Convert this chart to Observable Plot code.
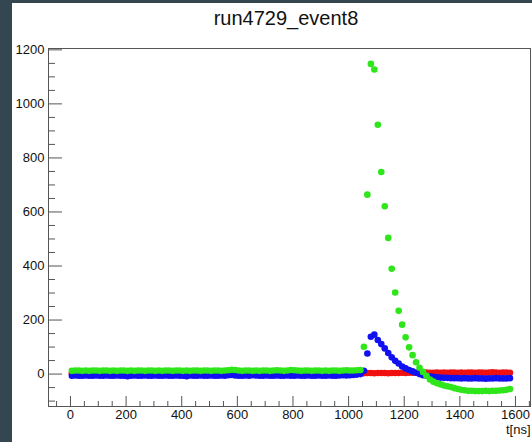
<!DOCTYPE html>
<html><head><meta charset="utf-8">
<script src="https://cdn.jsdelivr.net/npm/d3@7"></script>
<script src="https://cdn.jsdelivr.net/npm/@observablehq/plot@0.6"></script>
<style>
html,body{margin:0;padding:0;background:#34464f;width:532px;height:442px;overflow:hidden;}
#panel{position:absolute;left:12px;top:3px;width:520px;height:439px;background:#fff;}
#title{position:absolute;left:274px;top:4px;transform:translateX(-50%);font:20px "Liberation Sans",Arial,sans-serif;color:#111;white-space:nowrap;}
#chart{position:absolute;left:0;top:27px;}
</style></head><body>
<div id="panel"><div id="title">run4729_event8</div><div id="chart"></div></div>
<script>
// sampling grid (ns)
const T0 = 5, DT = 12.5;

const red = [
 3,2,3,3,2,3,3,2,3,3, 2,3,3,2,3,3,2,3,3,2,
 3,3,2,3,3,2,3,3,2,3, 3,2,3,3,2,3,3,2,3,3,
 2,3,3,2,3,3,2,3,3,2, 3,3,2,3,3,2,3,3,2,3,
 3,2,3,3,2,3,3,2,3,3, 2,3,3,2,3,3,2,3,3,2,
 3,3,2,3,3,
 4,4,3,4,4,4,3,4,4,4, 5,4,5,5,5,5,5,6,5,5,
 6,5,6,5,6,6,5,6,5,6, 6,5,6,6,5,6,7,6,5,6,
 6,5
];
const blue = [
 -6,-5,-6,-6,-5,-6,-6,-5,-6,-6, -5,-6,-6,-5,-6,-6,-8,-6,-5,-6,
 -6,-5,-6,-6,-5,-6,-6,-5,-6,-6, -5,-6,-6,-8,-5,-6,-6,-5,-6,-6,
 -5,-6,-6,-5,-6,-4,-3,-5,-6,-6, -5,-6,-4,-5,-6,-6,-5,-6,-6,-5,
 -6,-6,-5,-6,-6,-5,-6,-6,-5,-6, -6,-5,-6,-6,-5,-6,-6,-5,-4,-5,
 -4,-3,-2,0,12,
 76,138,146,126,111,95,78,62,49,39, 28,21,15,10,5,0,-4,-6,-8,-10,
 -12,-13,-14,-14,-15,-15,-15,-16,-15,-16, -16,-15,-16,-16,-17,-16,-16,-15,-16,-16,
 -16,-15
];
const green = [
 12,13,13,12,13,12,13,13,12,13, 13,12,13,12,13,13,12,13,12,13,
 13,12,13,13,12,13,12,13,13,12, 13,13,12,13,12,13,13,12,13,13,
 12,13,13,12,13,14,16,15,13,12, 13,13,12,13,12,13,13,12,13,14,
 13,12,13,15,14,13,12,13,13,12, 13,13,12,13,12,13,13,12,13,14,
 13,13,14,15,101,
 664,1148,1127,923,748,621,504,390,302,234, 183,136,99,70,44,23,8,-6,-20,-28,
 -34,-38,-42,-45,-48,-52,-55,-58,-60,-62, -62,-63,-63,-63,-62,-63,-62,-62,-61,-60,
 -58,-55
];

const yMajor = [0,200,400,600,800,1000,1200];
const yMinor = [-100,-50,50,100,150,250,300,350,450,500,550,650,700,750,850,900,950,1050,1100,1150];
const xMajor = [0,200,400,600,800,1000,1200,1400,1600];
const xMinor = [-50,50,100,150,250,300,350,450,500,550,650,700,750,850,900,950,1050,1100,1150,1250,1300,1350,1450,1500,1550,1650];

const W=520,H=412,ML=36,MR=2,MT=18,MB=36;
const FW=W-ML-MR, FH=H-MT-MB;
const rows = vals => vals.map((v,i)=>({t: T0 + DT*i, v}));
const axisColor = "#555";

const chart = Plot.plot({
  width:W, height:H, marginLeft:ML, marginRight:MR, marginTop:MT, marginBottom:MB,
  style:{fontFamily:'"Liberation Sans",Arial,sans-serif', fontSize:"13px", background:"white", color:"#111"},
  x:{domain:[-79,1654]},
  y:{domain:[-120,1205]},
  marks:[
    Plot.ruleY(yMinor,{insetRight:FW-7, stroke:axisColor}),
    Plot.ruleY(yMajor,{insetRight:FW-14, stroke:axisColor}),
    Plot.ruleX(xMinor,{insetTop:FH-5, stroke:axisColor}),
    Plot.ruleX(xMajor,{insetTop:FH-10, stroke:axisColor}),
    Plot.dot(rows(red),{x:"t", y:"v", r:3.3, fill:"#f01010"}),
    Plot.dot(rows(blue),{x:"t", y:"v", r:3.3, fill:"#1010f0"}),
    Plot.dot(rows(green),{x:"t", y:"v", r:3.3, fill:"#2ee61a"}),
    Plot.frame({stroke:axisColor}),
    Plot.axisY({ticks:yMajor, tickSize:0, tickPadding:4, fontSize:13, label:null, tickFormat:"d"}),
    Plot.axisX({ticks:xMajor, tickSize:0, tickPadding:3, fontSize:13, label:null, tickFormat:"d"}),
    Plot.text(["t[ns]"], {frameAnchor:"bottom-right", text:d=>d, textAnchor:"end", dy:27, dx:0, fontSize:13})
  ]
});
document.getElementById("chart").appendChild(chart);
</script>
</body></html>
